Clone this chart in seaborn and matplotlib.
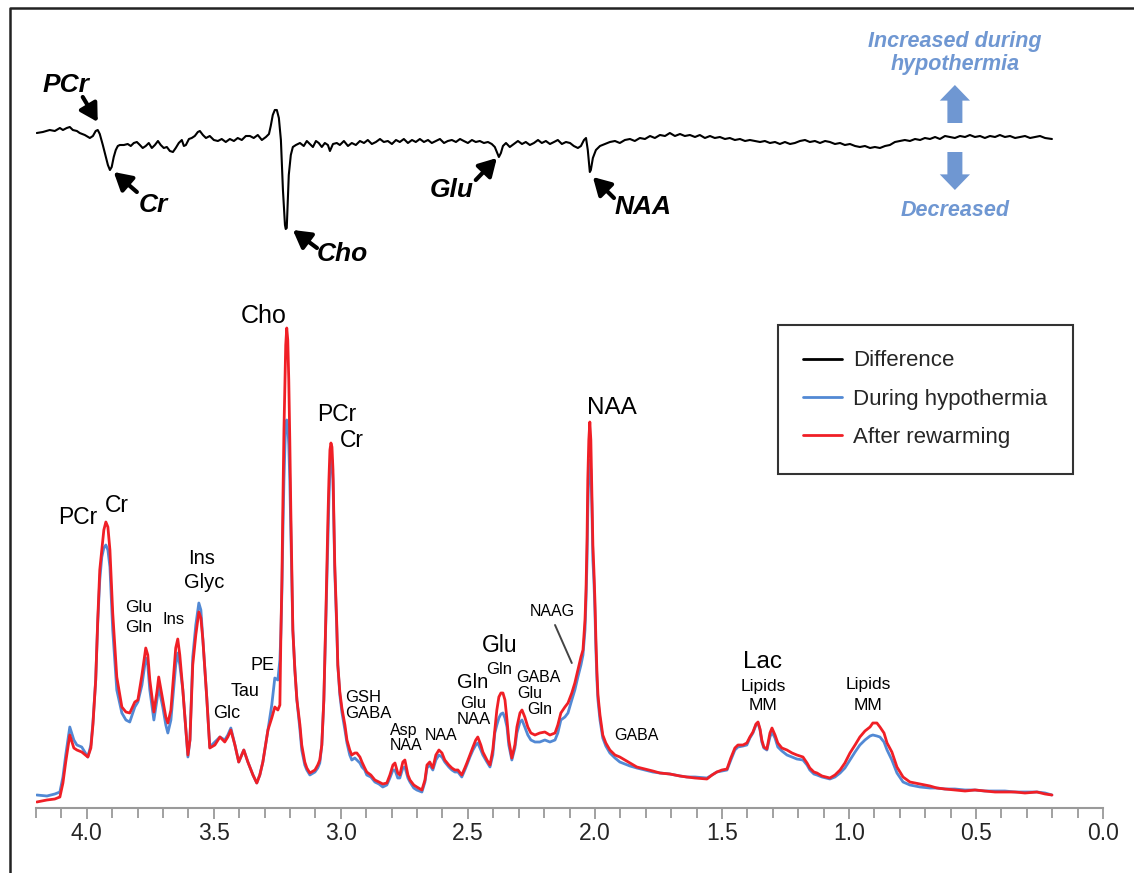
import matplotlib
matplotlib.use("Agg")
import matplotlib.pyplot as plt
from matplotlib.lines import Line2D
import seaborn as sns
import pandas as pd

# ---------------- data ----------------
# chemical shift grid (ppm) for the two spectra
spec_ppm = [4.197, 4.157, 4.126, 4.106, 4.094, 4.083, 4.067, 4.051, 4.039, 4.020,
            3.996, 3.984, 3.976, 3.965, 3.957, 3.949, 3.941, 3.933, 3.925, 3.917,
            3.909, 3.898, 3.882, 3.862, 3.846, 3.831, 3.811, 3.799, 3.783, 3.768,
            3.760, 3.752, 3.736, 3.724, 3.717, 3.701, 3.689, 3.681, 3.669, 3.657,
            3.650, 3.642, 3.634, 3.622, 3.610, 3.602, 3.594, 3.583, 3.571, 3.559,
            3.551, 3.543, 3.528, 3.516, 3.496, 3.476, 3.457, 3.445, 3.433, 3.417,
            3.402, 3.382, 3.366, 3.346, 3.331, 3.319, 3.307, 3.287, 3.272, 3.260,
            3.248, 3.240, 3.236, 3.232, 3.228, 3.224, 3.220, 3.217, 3.213, 3.209,
            3.205, 3.201, 3.197, 3.193, 3.189, 3.181, 3.173, 3.161, 3.154, 3.142,
            3.134, 3.122, 3.102, 3.091, 3.083, 3.075, 3.067, 3.059, 3.051, 3.047,
            3.043, 3.039, 3.035, 3.031, 3.028, 3.024, 3.016, 3.012, 3.004, 2.996,
            2.984, 2.976, 2.965, 2.957, 2.945, 2.937, 2.925, 2.917, 2.906, 2.898,
            2.882, 2.866, 2.850, 2.835, 2.819, 2.807, 2.795, 2.787, 2.776, 2.768,
            2.756, 2.748, 2.736, 2.728, 2.713, 2.701, 2.681, 2.669, 2.661, 2.650,
            2.638, 2.626, 2.614, 2.602, 2.591, 2.575, 2.563, 2.551, 2.539, 2.524,
            2.512, 2.504, 2.492, 2.480, 2.469, 2.461, 2.449, 2.441, 2.425, 2.413,
            2.402, 2.394, 2.386, 2.378, 2.370, 2.362, 2.354, 2.346, 2.339, 2.327,
            2.315, 2.307, 2.295, 2.287, 2.276, 2.264, 2.252, 2.236, 2.217, 2.197,
            2.177, 2.157, 2.146, 2.134, 2.118, 2.106, 2.091, 2.079, 2.067, 2.055,
            2.047, 2.039, 2.035, 2.031, 2.028, 2.024, 2.020, 2.016, 2.012, 2.008,
            2.004, 2.000, 1.996, 1.992, 1.988, 1.980, 1.969, 1.957, 1.941, 1.921,
            1.902, 1.882, 1.862, 1.835, 1.803, 1.772, 1.744, 1.705, 1.665, 1.638,
            1.606, 1.559, 1.539, 1.520, 1.500, 1.480, 1.465, 1.449, 1.437, 1.417,
            1.402, 1.390, 1.378, 1.366, 1.358, 1.350, 1.343, 1.335, 1.323, 1.311,
            1.303, 1.291, 1.280, 1.264, 1.244, 1.224, 1.205, 1.181, 1.165, 1.154,
            1.138, 1.126, 1.106, 1.075, 1.055, 1.035, 1.016, 0.996, 0.976, 0.957,
            0.937, 0.917, 0.906, 0.890, 0.878, 0.862, 0.850, 0.831, 0.811, 0.787,
            0.760, 0.720, 0.681, 0.654, 0.622, 0.583, 0.543, 0.504, 0.465, 0.425,
            0.386, 0.346, 0.307, 0.260, 0.228, 0.201]

during_hypothermia = [13, 12, 14, 16, 31, 53, 81, 68, 63, 61,
                      51, 63, 85, 128, 185, 228, 251, 260, 263, 258,
                      241, 178, 118, 95, 88, 86, 101, 106, 123, 150,
                      143, 118, 88, 108, 121, 101, 83, 75, 88, 123,
                      143, 155, 143, 118, 78, 51, 68, 151, 183, 205,
                      198, 168, 111, 61, 66, 71, 68, 73, 80, 63,
                      46, 58, 46, 33, 25, 33, 46, 78, 103, 130,
                      128, 148, 175, 218, 278, 328, 363, 383, 388, 383,
                      363, 328, 278, 228, 178, 138, 108, 78, 58, 43,
                      38, 33, 36, 40, 45, 63, 108, 188, 268, 308,
                      338, 350, 348, 328, 288, 238, 178, 143, 113, 96,
                      78, 65, 53, 48, 50, 48, 45, 41, 38, 33,
                      31, 26, 24, 21, 23, 30, 38, 38, 30, 30,
                      40, 41, 30, 26, 20, 18, 16, 26, 40, 43,
                      38, 48, 53, 51, 46, 41, 38, 36, 36, 31,
                      38, 43, 51, 58, 63, 65, 58, 53, 46, 41,
                      53, 75, 83, 90, 94, 95, 90, 81, 63, 48,
                      60, 75, 86, 88, 81, 73, 68, 66, 66, 68,
                      66, 68, 75, 88, 91, 95, 108, 118, 131, 143,
                      153, 178, 208, 248, 298, 338, 348, 338, 303, 248,
                      228, 198, 158, 128, 108, 88, 70, 62, 55, 50,
                      46, 44, 42, 40, 38, 36, 35, 34, 32, 31,
                      31, 30, 33, 36, 37, 38, 48, 58, 61, 62,
                      63, 70, 75, 83, 85, 78, 66, 60, 58, 71,
                      76, 70, 61, 57, 53, 51, 49, 48, 43, 38,
                      34, 33, 31, 29, 31, 35, 40, 48, 56, 63,
                      68, 72, 73, 72, 71, 66, 58, 48, 35, 26,
                      23, 21, 20, 20, 19, 19, 18, 18, 17, 17,
                      17, 16, 16, 16, 15, 13]

after_rewarming = [6, 8, 9, 11, 25, 46, 73, 60, 58, 56,
                   51, 60, 83, 128, 188, 238, 258, 278, 286, 281,
                   258, 195, 131, 101, 96, 95, 106, 108, 133, 160,
                   153, 128, 96, 116, 131, 108, 91, 85, 98, 138,
                   160, 169, 153, 118, 78, 53, 68, 143, 173, 196,
                   190, 168, 111, 60, 63, 71, 66, 71, 78, 63,
                   46, 58, 46, 33, 25, 33, 46, 78, 90, 101,
                   98, 103, 175, 228, 308, 378, 428, 463, 480, 468,
                   428, 368, 298, 238, 178, 138, 108, 83, 63, 46,
                   40, 35, 38, 43, 48, 63, 108, 193, 288, 328,
                   358, 365, 361, 338, 298, 243, 183, 143, 116, 100,
                   83, 68, 58, 53, 55, 55, 51, 46, 40, 36,
                   33, 28, 26, 24, 25, 33, 43, 45, 35, 33,
                   46, 48, 33, 28, 23, 21, 18, 28, 43, 46,
                   40, 53, 58, 55, 48, 43, 40, 38, 38, 33,
                   40, 45, 53, 61, 68, 71, 63, 56, 48, 43,
                   58, 78, 98, 111, 115, 115, 108, 88, 68, 50,
                   63, 81, 95, 98, 91, 81, 75, 73, 75, 76,
                   73, 75, 83, 95, 101, 105, 115, 125, 138, 151,
                   158, 188, 218, 268, 328, 368, 386, 368, 318, 263,
                   238, 208, 168, 136, 113, 93, 73, 65, 58, 53,
                   51, 48, 45, 41, 39, 37, 35, 34, 32, 31,
                   30, 29, 33, 36, 38, 39, 50, 60, 63, 63,
                   65, 71, 76, 84, 86, 79, 68, 61, 59, 75,
                   80, 73, 65, 60, 58, 55, 53, 51, 45, 40,
                   36, 35, 32, 30, 33, 38, 45, 55, 63, 71,
                   77, 81, 85, 85, 81, 75, 65, 56, 41, 31,
                   26, 24, 22, 20, 19, 18, 17, 18, 17, 16,
                   16, 16, 15, 16, 14, 13]

# difference trace (plotted with a vertical offset in the same axes)
diff_ppm = [4.197, 4.173, 4.146, 4.126, 4.106, 4.094, 4.079, 4.067, 4.055, 4.039,
            4.028, 4.008, 3.988, 3.976, 3.965, 3.957, 3.949, 3.937, 3.925, 3.917,
            3.909, 3.902, 3.894, 3.886, 3.878, 3.870, 3.854, 3.839, 3.827, 3.815,
            3.803, 3.791, 3.780, 3.768, 3.756, 3.744, 3.732, 3.720, 3.709, 3.697,
            3.685, 3.673, 3.661, 3.650, 3.638, 3.626, 3.618, 3.610, 3.598, 3.587,
            3.575, 3.563, 3.555, 3.543, 3.531, 3.516, 3.500, 3.484, 3.469, 3.453,
            3.437, 3.421, 3.406, 3.390, 3.374, 3.358, 3.343, 3.327, 3.311, 3.295,
            3.283, 3.276, 3.268, 3.260, 3.252, 3.244, 3.236, 3.228, 3.220, 3.217,
            3.213, 3.209, 3.205, 3.197, 3.189, 3.177, 3.161, 3.146, 3.134, 3.122,
            3.110, 3.098, 3.087, 3.075, 3.063, 3.051, 3.043, 3.031, 3.016, 3.004,
            2.988, 2.972, 2.957, 2.941, 2.925, 2.909, 2.894, 2.878, 2.862, 2.846,
            2.831, 2.815, 2.799, 2.783, 2.768, 2.752, 2.736, 2.720, 2.705, 2.689,
            2.673, 2.657, 2.642, 2.626, 2.610, 2.594, 2.579, 2.563, 2.547, 2.531,
            2.516, 2.500, 2.484, 2.469, 2.453, 2.437, 2.421, 2.406, 2.394, 2.386,
            2.378, 2.370, 2.362, 2.350, 2.335, 2.319, 2.303, 2.287, 2.272, 2.256,
            2.240, 2.224, 2.209, 2.193, 2.177, 2.161, 2.146, 2.130, 2.114, 2.098,
            2.083, 2.067, 2.055, 2.043, 2.035, 2.028, 2.020, 2.016, 2.008, 1.996,
            1.980, 1.961, 1.941, 1.921, 1.902, 1.882, 1.862, 1.843, 1.823, 1.803,
            1.783, 1.764, 1.744, 1.724, 1.705, 1.685, 1.665, 1.646, 1.626, 1.606,
            1.587, 1.567, 1.547, 1.528, 1.508, 1.488, 1.469, 1.449, 1.429, 1.409,
            1.390, 1.370, 1.350, 1.331, 1.311, 1.291, 1.272, 1.252, 1.232, 1.213,
            1.193, 1.173, 1.154, 1.134, 1.114, 1.094, 1.075, 1.055, 1.035, 1.016,
            0.996, 0.976, 0.957, 0.937, 0.917, 0.898, 0.878, 0.858, 0.839, 0.819,
            0.799, 0.780, 0.760, 0.740, 0.720, 0.701, 0.681, 0.661, 0.642, 0.622,
            0.602, 0.583, 0.563, 0.543, 0.524, 0.504, 0.484, 0.465, 0.445, 0.425,
            0.406, 0.386, 0.366, 0.346, 0.327, 0.307, 0.287, 0.268, 0.248, 0.228,
            0.201]

difference = [675, 676, 678, 677, 680, 678, 680, 681, 678, 677,
              675, 673, 670, 672, 677, 678, 674, 663, 651, 643,
              638, 641, 651, 658, 662, 663, 663, 664, 662, 665,
              666, 663, 660, 662, 665, 660, 663, 667, 663, 660,
              661, 657, 656, 660, 665, 668, 662, 663, 669, 670,
              672, 676, 677, 673, 670, 672, 668, 667, 669, 666,
              669, 667, 670, 668, 672, 672, 670, 673, 668, 671,
              674, 682, 693, 698, 698, 690, 668, 618, 583, 579,
              580, 608, 633, 653, 661, 663, 665, 662, 667, 664,
              661, 667, 665, 661, 665, 663, 657, 664, 665, 663,
              667, 662, 665, 663, 667, 665, 668, 664, 666, 669,
              666, 667, 664, 668, 666, 669, 665, 668, 666, 669,
              666, 668, 665, 667, 669, 665, 667, 668, 666, 669,
              667, 665, 668, 666, 667, 665, 666, 664, 661, 656,
              651, 655, 662, 665, 661, 664, 667, 664, 666, 663,
              665, 668, 665, 667, 664, 666, 668, 664, 666, 665,
              662, 660, 662, 668, 670, 658, 636, 638, 650, 658,
              662, 664, 666, 667, 665, 668, 669, 667, 670, 669,
              672, 670, 673, 672, 675, 672, 674, 672, 673, 671,
              673, 670, 672, 670, 671, 669, 670, 668, 669, 667,
              668, 667, 666, 667, 665, 666, 664, 666, 664, 665,
              667, 668, 666, 667, 665, 667, 666, 664, 665, 663,
              664, 662, 661, 662, 660, 661, 660, 662, 663, 666,
              667, 668, 667, 669, 668, 670, 669, 671, 669, 672,
              671, 670, 672, 671, 673, 671, 672, 670, 672, 671,
              673, 671, 672, 670, 671, 672, 670, 671, 672, 670,
              669]

series_labels = ["Difference", "During hypothermia", "After rewarming"]
tick_values = [4.0, 3.5, 3.0, 2.5, 2.0, 1.5, 1.0, 0.5, 0.0]
tick_labels = ["4.0", "3.5", "3.0", "2.5", "2.0", "1.5", "1.0", "0.5", "0.0"]

# ---------------- style ----------------
sns.set_theme(style="white")
plt.rcParams["font.family"] = ["Liberation Sans", "DejaVu Sans"]

BLUE = "#5289d4"
RED = "#f01f26"
LIGHTBLUE = "#6f97d2"

fig = plt.figure(figsize=(11.34, 8.73), dpi=100)
ax = fig.add_axes([36 / 1134, 65 / 873, 1067 / 1134, 800 / 873])

spec = pd.DataFrame({"ppm": spec_ppm, "blue": during_hypothermia, "red": after_rewarming})
dif = pd.DataFrame({"ppm": diff_ppm, "diff": difference})

sns.lineplot(data=dif, x="ppm", y="diff", ax=ax, color="black", lw=1.5,
             sort=False, estimator=None, label=series_labels[0])
sns.lineplot(data=spec, x="ppm", y="blue", ax=ax, color=BLUE, lw=2.0,
             sort=False, estimator=None, label=series_labels[1])
sns.lineplot(data=spec, x="ppm", y="red", ax=ax, color=RED, lw=2.0,
             sort=False, estimator=None, label=series_labels[2])

ax.set_xlim(4.2, 0.0)
ax.set_ylim(0, 800)
ax.set_xlabel("")
ax.set_ylabel("")
ax.set_yticks([])
for s in ["left", "right", "top"]:
    ax.spines[s].set_visible(False)
ax.spines["bottom"].set_color("#9a9a9a")
ax.spines["bottom"].set_linewidth(1.5)
ax.set_xticks(tick_values)
ax.set_xticklabels(tick_labels)
ax.set_xticks([round(0.1 * i, 1) for i in range(43)], minor=True)
ax.tick_params(axis="x", which="major", direction="out", length=8, width=1.3,
               color="#9a9a9a", labelsize=16.5, pad=2, bottom=True)
ax.tick_params(axis="x", which="minor", direction="out", length=7, width=1.3,
               color="#9a9a9a", bottom=True)
ax.patch.set_alpha(0)

# legend
h, l = ax.get_legend_handles_labels()
leg = ax.legend(h, l, loc="upper left", bbox_to_anchor=(0.695, 0.604), borderaxespad=0,
                frameon=True, fancybox=False, fontsize=16, handlelength=1.75,
                handletextpad=0.5, labelspacing=0.78, borderpad=1.15)
leg.get_frame().set_edgecolor("black")
leg.get_frame().set_linewidth(1.5)
for line in leg.get_lines():
    line.set_linewidth(2.0)

# ---------- difference annotations ----------
bi = dict(fontweight="bold", fontstyle="italic", fontsize=19, color="black",
          ha="center", va="center")
arr = dict(arrowstyle="-|>,head_length=0.7,head_width=0.4", lw=3.0, color="black",
           shrinkA=0, shrinkB=0, mutation_scale=15)
ax.text(4.083, 723, "PCr", **bi)
ax.annotate("", xy=(3.957, 686), xytext=(4.016, 711), arrowprops=arr)
ax.text(3.740, 603, "Cr", **bi)
ax.annotate("", xy=(3.894, 636), xytext=(3.803, 616), arrowprops=arr)
ax.text(2.996, 554, "Cho", **bi)
ax.annotate("", xy=(3.189, 578), xytext=(3.094, 560), arrowprops=arr)
ax.text(2.563, 618, "Glu", **bi)
ax.annotate("", xy=(2.386, 650), xytext=(2.469, 628), arrowprops=arr)
ax.text(1.811, 601, "NAA", **bi)
ax.annotate("", xy=(2.008, 631), xytext=(1.925, 610), arrowprops=arr)

ax.text(0.583, 755, "Increased during\nhypothermia", color=LIGHTBLUE, fontsize=15.5,
        fontweight="bold", fontstyle="italic", ha="center", va="center", linespacing=1.15)
ax.text(0.583, 598, "Decreased", color=LIGHTBLUE, fontsize=15.5,
        fontweight="bold", fontstyle="italic", ha="center", va="center")
blk = dict(arrowstyle="simple,head_length=0.75,head_width=1.45,tail_width=0.72",
           color=LIGHTBLUE, shrinkA=0, shrinkB=0, mutation_scale=15, lw=0)
ax.annotate("", xy=(0.583, 723), xytext=(0.583, 685), arrowprops=blk)
ax.annotate("", xy=(0.583, 618), xytext=(0.583, 656), arrowprops=blk)

# ---------- spectrum annotations ----------
def lab(x, y, s, size, ha="center"):
    ax.text(x, y, s, fontsize=size, ha=ha, va="center", color="black")

lab(4.035, 290, "PCr", 16.5)
lab(3.882, 303, "Cr", 16.5)
lab(3.795, 201, "Glu", 12.5)
lab(3.795, 180, "Gln", 12.5)
lab(3.657, 188, "Ins", 12)
lab(3.547, 250, "Ins", 14.5)
lab(3.539, 226, "Glyc", 14.5)
lab(3.307, 143, "PE", 13)
lab(3.378, 116, "Tau", 13)
lab(3.449, 95, "Glc", 13)
lab(3.303, 492, "Cho", 18)
lab(3.016, 394, "PCr", 16.5)
lab(2.957, 368, "Cr", 16.5)
lab(2.984, 111, "GSH", 12, ha="left")
lab(2.984, 95, "GABA", 12, ha="left")
lab(2.752, 78, "Asp", 11.5)
lab(2.744, 63, "NAA", 11.5)
lab(2.606, 72, "NAA", 11.5)
lab(2.480, 125, "Gln", 14.5)
lab(2.480, 105, "Glu", 12)
lab(2.476, 89, "NAA", 12)
lab(2.374, 162, "Glu", 16.5)
lab(2.378, 139, "Gln", 12)
lab(2.224, 130, "GABA", 11.5)
lab(2.256, 114, "Glu", 11.5)
lab(2.217, 99, "Gln", 11.5)
lab(2.169, 196, "NAAG", 11.5)
ax.plot([2.157, 2.091], [183, 145], color="#444444", lw=1.4)
lab(1.933, 400, "NAA", 17.5)
lab(1.835, 73, "GABA", 11.5)
lab(1.339, 146, "Lac", 17.5)
lab(1.339, 122, "Lipids", 12.5)
lab(1.339, 102, "MM", 12.5)
lab(0.925, 123, "Lipids", 12.5)
lab(0.925, 103, "MM", 12.5)

# outer frame (top and left edges visible in the picture)
fig.add_artist(Line2D([10 / 1134, 10 / 1134, 1.0], [0.0, 1 - 8 / 873, 1 - 8 / 873],
                      transform=fig.transFigure, color="#222222", lw=1.8))

fig.savefig("out.png", dpi=100)
